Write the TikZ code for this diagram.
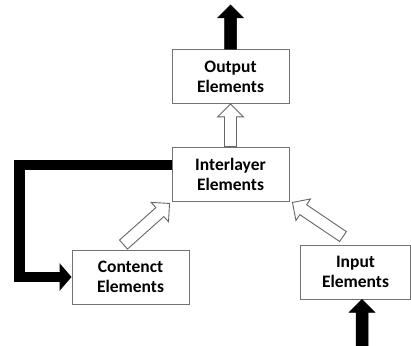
\documentclass[tikz,border=0pt]{standalone}
\usepackage{fontspec}
\newfontfamily\elfont{Carlito}
\usetikzlibrary{arrows.meta,calc}

\tikzset{
  elbox/.style={draw=black!55, line width=0.9pt, fill=white, minimum width=117pt,
    minimum height=54pt, inner sep=0pt, align=center,
    font=\elfont\bfseries\fontsize{17.5}{20}\selectfont},
  hollowarrow/.style={draw=black!60, line width=0.9pt, fill=white, line join=miter},
  blackarrow/.style={draw=black, line width=0.5pt, fill=black, line join=miter},
  loopline/.style={line width=10.5pt, line join=miter, -{Triangle[length=12pt,width=27pt]}}
}
% block arrow from #2 to #3
\newcommand{\blockarrow}[3][hollowarrow]{%
  \coordinate (hb) at ($(#3)!13pt!(#2)$);
  \draw[#1] ($(#2)!6pt!90:(#3)$) -- ($(hb)!6pt!90:(#3)$) -- ($(hb)!13pt!90:(#3)$) -- (#3)
    -- ($(hb)!13pt!-90:(#3)$) -- ($(hb)!6pt!-90:(#3)$) -- ($(#2)!6pt!-90:(#3)$) -- cycle;}

\begin{document}
\begin{tikzpicture}[x=1pt,y=1pt]
\useasboundingbox (0,0) rectangle (411,345);
\node[elbox] (output) at (230.5,268.5) {Output\\Elements};
\node[elbox] (inter) at (230.5,171) {Interlayer\\Elements};
\node[elbox] (cont) at (130.5,68) {Contenct\\Elements};
\node[elbox, minimum width=110pt] (input) at (355.5,73) {Input\\Elements};

% black arrows in and out
\coordinate (out-head) at (230.5,340);
\coordinate (in-tail) at (362,-2);
\coordinate (in-head) at ([xshift=6.5pt]input.south);
\blockarrow[blackarrow]{output.north}{out-head}
\blockarrow[blackarrow]{in-tail}{in-head}

% feedback loop
\coordinate (bend) at (19.5,68);
\draw[loopline] ([yshift=9pt]inter.west) -| (bend) -- (cont.west);

% hollow arrows
\coordinate (c-tail) at ([shift={(-7pt,5pt)}]cont.north);
\coordinate (c-head) at ([shift={(-2pt,-2pt)}]inter.south west);
\coordinate (i-tail) at ([shift={(-12.5pt,8pt)}]input.north);
\coordinate (i-head) at ([shift={(3pt,-1pt)}]inter.south east);
\blockarrow{inter.north}{output.south}
\blockarrow{c-tail}{c-head}
\blockarrow{i-tail}{i-head}
\end{tikzpicture}
\end{document}
